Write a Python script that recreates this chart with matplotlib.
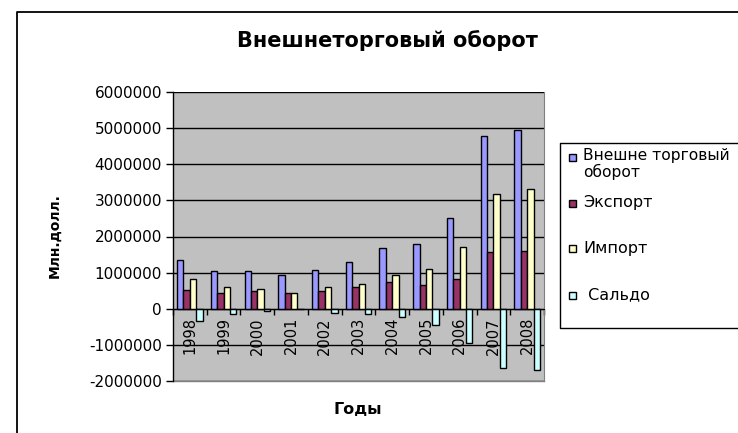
import matplotlib
matplotlib.use('Agg')
import matplotlib.pyplot as plt
from matplotlib.lines import Line2D
import numpy as np

plt.rcParams['font.family'] = ['DejaVu Sans']
plt.rcParams['axes.unicode_minus'] = False

years = ['1998', '1999', '2000', '2001', '2002', '2003', '2004', '2005', '2006', '2007', '2008']
turnover = [1360000, 1050000, 1050000, 940000, 1080000, 1290000, 1670000, 1780000, 2510000, 4770000, 4940000]
export = [530000, 440000, 490000, 440000, 490000, 590000, 730000, 670000, 810000, 1560000, 1600000]
imports = [830000, 590000, 560000, 440000, 590000, 690000, 940000, 1110000, 1700000, 3190000, 3310000]
saldo = [-350000, -140000, -70000, 0, -110000, -140000, -240000, -440000, -940000, -1630000, -1700000]

series = [turnover, export, imports, saldo]
names = ['Внешне торговый\nоборот', 'Экспорт', 'Импорт', ' Сальдо']
colors = ['#9999FF', '#993366', '#FFFFCC', '#CCFFFF']

fig = plt.figure(figsize=(7.38, 4.33), dpi=100)
ax = fig.add_axes([173 / 738, 52 / 433, 371 / 738, 289 / 433])
ax.set_facecolor('#C0C0C0')

x = np.arange(len(years))
w = 0.19
for i, (vals, c) in enumerate(zip(series, colors)):
    ax.bar(x + (i - 1.5) * w, vals, width=w, color=c, edgecolor='black', linewidth=1, zorder=3)

ax.set_xlim(-0.5, len(years) - 0.5)
ax.set_ylim(-2000000, 6000000)
ax.set_yticks(np.arange(-2000000, 6000001, 1000000))
ax.set_yticklabels([str(v) for v in range(-2000000, 6000001, 1000000)], fontsize=11)
ax.grid(axis='y', color='black', linewidth=1, zorder=1)
ax.tick_params(axis='y', direction='out', length=5, width=1, pad=3)

ax.spines['bottom'].set_position(('data', 0))
ax.spines['bottom'].set_zorder(4)
ax.spines['top'].set_visible(False)
ax.spines['right'].set_color('#808080')
ax.spines['left'].set_linewidth(1)
ax.set_xticks(x)
ax.set_xticklabels(years, rotation=90, fontsize=10.5, va='top')
ax.set_xticks(np.arange(-0.5, len(years), 1), minor=True)
ax.tick_params(axis='x', which='major', length=0, pad=6)
ax.tick_params(axis='x', which='minor', direction='out', length=4, width=1)

# нижняя граница области построения
ax.plot([-0.5, len(years) - 0.5], [-2000000, -2000000], color='#808080', linewidth=1, clip_on=False, zorder=2)

fig.text(55 / 738, 1 - 236 / 433, 'Млн.долл.', rotation=90, ha='center', va='center',
         fontsize=10, fontweight='bold')
fig.text(358 / 738, 1 - 410 / 433, 'Годы', ha='center', va='center', fontsize=11.5, fontweight='bold')
fig.text(387 / 738, 1 - 41 / 433, 'Внешнеторговый оборот', ha='center', va='center',
         fontsize=15, fontweight='bold')

# рамка диаграммы
fig.add_artist(Line2D([17 / 738, 17 / 738, 1.0], [0, 1 - 12 / 433, 1 - 12 / 433],
                      transform=fig.transFigure, color='black', linewidth=1.3))

# легенда
fig.add_artist(Line2D([1.0, 560 / 738, 560 / 738, 1.0],
                      [1 - 143 / 433, 1 - 143 / 433, 1 - 328 / 433, 1 - 328 / 433],
                      transform=fig.transFigure, color='black', linewidth=1))
leg_y = [157, 203, 248, 295]
for name, c, yy in zip(names, colors, leg_y):
    yf = 1 - yy / 433
    fig.patches.append(plt.Rectangle((569 / 738, yf - 3.5 / 433), 7 / 738, 7 / 433,
                                     transform=fig.transFigure, facecolor=c,
                                     edgecolor='black', linewidth=1))
    if '\n' in name:
        fig.text(583 / 738, yf + 9 / 433, name, ha='left', va='top',
                 fontsize=11.2, linespacing=1.1)
    else:
        fig.text(583 / 738, yf, name, ha='left', va='center', fontsize=11.5)

fig.savefig('out.png', dpi=100)
